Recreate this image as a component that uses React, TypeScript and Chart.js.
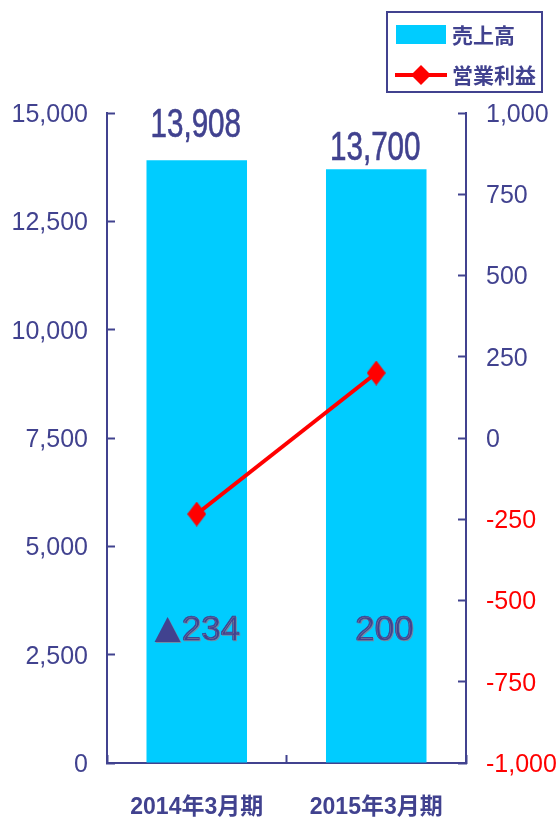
import React, { useEffect, useRef } from 'react';
import { Chart, registerables } from 'chart.js';

Chart.register(...registerables);

// Fiscal periods and results
const categories = ['2014年3月期', '2015年3月期'];
const salesValues = [13908, 13700]; // 売上高
const profitValues = [-234, 200]; // 営業利益
const seriesNames = ['売上高', '営業利益'];

// Axis ranges
const salesAxis = { min: 0, max: 15000, step: 2500 };
const profitAxis = { min: -1000, max: 1000, step: 250 };

const NAVY = '#41428F';
const CYAN = '#00CCFF';
const RED = '#FF0000';
const SANS = "'Liberation Sans', Arial, sans-serif";
const CJK = "'Liberation Sans', 'Noto Sans CJK JP', sans-serif";

const fmt = (v: number) => v.toLocaleString('en-US');

function diamond(w: number, h: number, color: string): HTMLCanvasElement {
  const c = document.createElement('canvas');
  c.width = w;
  c.height = h;
  const g = c.getContext('2d')!;
  g.fillStyle = color;
  g.beginPath();
  g.moveTo(w / 2, 0);
  g.lineTo(w, h / 2);
  g.lineTo(w / 2, h);
  g.lineTo(0, h / 2);
  g.closePath();
  g.fill();
  return c;
}

const labelPlugin = {
  id: 'valueLabels',
  afterDatasetsDraw(chart: any) {
    const { ctx, chartArea } = chart;
    const bars = chart.getDatasetMeta(1).data;
    const gaps = [23, 9];
    ctx.save();
    // sales figures above the bars, in a condensed face
    ctx.font = `40px ${SANS}`;
    ctx.fillStyle = NAVY;
    ctx.strokeStyle = NAVY;
    ctx.lineWidth = 0.6;
    ctx.textAlign = 'center';
    ctx.textBaseline = 'alphabetic';
    bars.forEach((bar: any, i: number) => {
      ctx.save();
      ctx.translate(bar.x - 1, bar.y - gaps[i]);
      ctx.scale(0.74, 1);
      ctx.fillText(fmt(salesValues[i]), 0, 0);
      ctx.strokeText(fmt(salesValues[i]), 0, 0);
      ctx.restore();
    });
    // operating profit figures inside the bars (▲ marks a loss)
    const y = chartArea.bottom - 133;
    const shifts = [0, 8];
    ctx.textBaseline = 'middle';
    ctx.textAlign = 'left';
    bars.forEach((bar: any, i: number) => {
      const v = profitValues[i];
      const digits = fmt(Math.abs(v));
      ctx.font = `35px ${SANS}`;
      const dw = ctx.measureText(digits).width;
      const tri = 28;
      const total = v < 0 ? tri + dw : dw;
      let x = bar.x + shifts[i] - total / 2;
      ctx.shadowColor = 'rgba(130,130,150,0.85)';
      ctx.shadowOffsetX = 1;
      ctx.shadowOffsetY = 1;
      ctx.shadowBlur = 0;
      ctx.fillStyle = NAVY;
      if (v < 0) {
        ctx.beginPath();
        ctx.moveTo(x + 14, y - 13);
        ctx.lineTo(x + 27, y + 12);
        ctx.lineTo(x + 1, y + 12);
        ctx.closePath();
        ctx.fill();
        x += tri;
      }
      ctx.fillText(digits, x, y);
      ctx.strokeText(digits, x, y);
    });
    ctx.restore();
  },
  afterDraw(chart: any) {
    const { ctx } = chart;
    const ds = chart.data.datasets;
    ctx.save();
    // legend frame
    ctx.strokeStyle = NAVY;
    ctx.lineWidth = 2;
    ctx.strokeRect(387, 12, 155, 80);
    // bar entry
    ctx.fillStyle = ds[1].backgroundColor;
    ctx.fillRect(396, 25, 50, 19);
    // line entry
    ctx.strokeStyle = ds[0].borderColor;
    ctx.lineWidth = 4;
    ctx.beginPath();
    ctx.moveTo(395, 75);
    ctx.lineTo(447, 75);
    ctx.stroke();
    ctx.fillStyle = ds[0].borderColor;
    ctx.beginPath();
    ctx.moveTo(421, 65);
    ctx.lineTo(431, 75);
    ctx.lineTo(421, 85);
    ctx.lineTo(411, 75);
    ctx.closePath();
    ctx.fill();
    ctx.fillStyle = NAVY;
    ctx.font = `bold 21px 'Noto Sans CJK JP', sans-serif`;
    ctx.textAlign = 'left';
    ctx.textBaseline = 'middle';
    ctx.fillText(ds[1].label, 452, 35);
    ctx.fillText(ds[0].label, 452, 75);
    ctx.restore();
  },
};

export default function App() {
  const ref = useRef<HTMLCanvasElement>(null);

  useEffect(() => {
    if (!ref.current) return;
    const tickFont = { family: SANS, size: 25 };
    const chart = new Chart(ref.current, {
      type: 'bar',
      data: {
        labels: categories,
        datasets: [
          {
            type: 'line',
            label: seriesNames[1],
            data: profitValues,
            yAxisID: 'y1',
            borderColor: RED,
            backgroundColor: RED,
            borderWidth: 4,
            pointStyle: diamond(19, 25, RED),
            pointRadius: 10,
            order: 0,
          } as any,
          {
            type: 'bar',
            label: seriesNames[0],
            data: salesValues,
            yAxisID: 'y',
            backgroundColor: CYAN,
            borderWidth: 0,
            barPercentage: 0.56,
            categoryPercentage: 1,
            order: 1,
          },
        ],
      },
      options: {
        responsive: false,
        animation: false,
        layout: { padding: { top: 113, left: 0, right: 0, bottom: 0 } },
        plugins: { legend: { display: false }, tooltip: { enabled: false } },
        scales: {
          x: {
            offset: true,
            border: { color: NAVY, width: 2 },
            grid: {
              offset: true,
              drawOnChartArea: false,
              drawTicks: true,
              tickLength: -8,
              tickColor: NAVY,
              tickWidth: 2,
            },
            ticks: {
              color: NAVY,
              font: { family: CJK, size: 23, weight: 'bold' },
              padding: 39,
            },
            afterFit: (s: any) => {
              s.height = 57;
            },
          },
          y: {
            position: 'left',
            min: salesAxis.min,
            max: salesAxis.max,
            border: { color: NAVY, width: 2 },
            grid: {
              drawOnChartArea: false,
              drawTicks: true,
              tickLength: -8,
              tickColor: NAVY,
              tickWidth: 2,
            },
            ticks: {
              stepSize: salesAxis.step,
              color: NAVY,
              font: tickFont,
              padding: 27,
              labelOffset: 2,
              callback: (v: any) => fmt(Number(v)),
            },
            afterFit: (s: any) => {
              s.width = 107;
            },
          },
          y1: {
            position: 'right',
            min: profitAxis.min,
            max: profitAxis.max,
            border: { color: NAVY, width: 2 },
            grid: {
              drawOnChartArea: false,
              drawTicks: true,
              tickLength: -8,
              tickColor: NAVY,
              tickWidth: 2,
            },
            ticks: {
              stepSize: profitAxis.step,
              color: (c: any) => (c.tick && c.tick.value < 0 ? RED : NAVY),
              font: tickFont,
              padding: 28,
              labelOffset: 2,
              callback: (v: any) => fmt(Number(v)),
            },
            afterFit: (s: any) => {
              s.width = 94;
            },
          },
        },
      },
      plugins: [labelPlugin],
    });
    return () => chart.destroy();
  }, []);

  return (
    <div style={{ position: 'fixed', left: 0, top: 0, width: 560, height: 820, background: '#fff' }}>
      <canvas ref={ref} width={560} height={820} style={{ display: 'block' }} />
    </div>
  );
}
